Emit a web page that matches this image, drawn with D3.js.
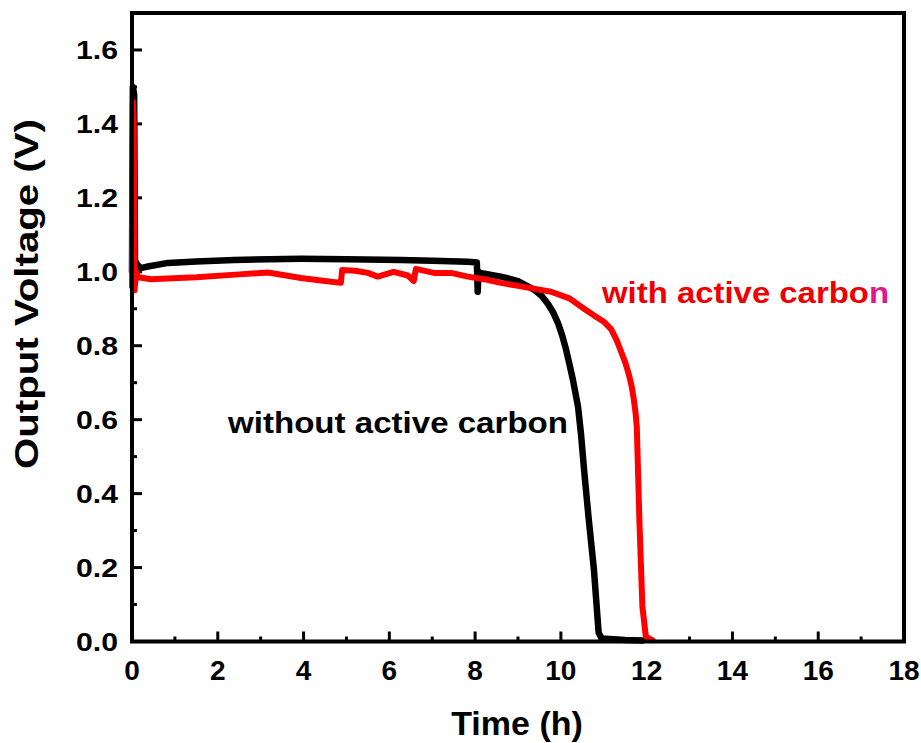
<!DOCTYPE html>
<html lang="en">
<head>
  <meta charset="UTF-8">
  <title>Output Voltage vs Time</title>
  <script src="https://d3js.org/d3.v7.min.js"></script>
  <style>
    body {
      margin: 0;
      background: #fff;
      font-family: Arial, "Liberation Sans", Helvetica, sans-serif;
    }
    svg { display: block; }
    .tick-label { font-weight: bold; fill: #000; }
    .axis-title { font-weight: bold; fill: #000; }
    .note { font-weight: bold; }
  </style>
</head>
<body>
  <svg></svg>
  <script>
    // without active carbon (black)
    const blackTime = [0.00, 0.02, 0.05, 0.07, 0.12, 0.20, 0.40, 0.84, 1.5, 2.38, 3.2, 3.94, 5.0, 6.27, 7.0, 7.83, 8.04,
      8.06, 8.08, 8.12, 8.6, 9.0, 9.37, 9.55, 9.7, 9.82, 9.93, 10.03, 10.12, 10.20, 10.28, 10.40, 10.47, 10.54, 10.65, 10.77, 10.88, 10.95, 11.5, 11.9];
    const blackVolt = [1.00, 1.50, 1.48, 1.03, 1.02, 1.010, 1.015, 1.024, 1.028, 1.032, 1.034, 1.035, 1.034, 1.032, 1.030, 1.027, 1.025,
      0.946, 1.000, 0.997, 0.987, 0.975, 0.952, 0.935, 0.913, 0.890, 0.862, 0.828, 0.790, 0.750, 0.708, 0.635, 0.560, 0.465, 0.330, 0.195, 0.024, 0.008, 0.004, 0.003];

    // with active carbon (red)
    const redTime = [0.00, 0.02, 0.04, 0.06, 0.10, 0.15, 0.44, 1.5, 2.5, 3.17, 3.94, 4.5, 4.87, 4.90, 5.2, 5.5, 5.73, 6.1, 6.43, 6.57,
      6.62, 7.04, 7.44, 7.83, 8.2, 8.6, 9.0, 9.77, 10.2, 10.54, 10.8, 11.0, 11.17, 11.3, 11.4, 11.5, 11.59, 11.65, 11.70, 11.74, 11.77,
      11.83, 11.90, 11.98, 12.14];
    const redVolt = [0.96, 1.46, 1.40, 0.95, 1.00, 0.985, 0.980, 0.985, 0.993, 0.998, 0.983, 0.975, 0.970, 1.005, 1.003, 0.997, 0.987, 1.000, 0.990, 0.975,
      1.008, 0.997, 0.997, 0.987, 0.980, 0.970, 0.962, 0.946, 0.928, 0.900, 0.880, 0.865, 0.845, 0.815, 0.785, 0.755, 0.720, 0.690, 0.655, 0.620, 0.580,
      0.330, 0.095, 0.013, 0.003];

    const xTicks = [0, 2, 4, 6, 8, 10, 12, 14, 16, 18];
    const yTicks = [0.0, 0.2, 0.4, 0.6, 0.8, 1.0, 1.2, 1.4, 1.6];

    const W = 921, H = 743;
    const svg = d3.select("svg").attr("width", W).attr("height", H);

    const x = d3.scaleLinear().domain([0, 18]).range([132, 904]);
    const y = d3.scaleLinear().domain([0, 1.7]).range([641.5, 13]);

    // ticks (inside, bottom + left only)
    const minorX = d3.range(1, 18, 2);
    const minorY = d3.range(0.1, 1.7, 0.2);

    const tickG = svg.append("g").attr("stroke", "#000").attr("stroke-width", 3);
    tickG.selectAll(".xmaj").data(xTicks.slice(1, -1)).enter().append("line")
      .attr("x1", d => x(d)).attr("x2", d => x(d))
      .attr("y1", y(0)).attr("y2", y(0) - 10);
    tickG.selectAll(".xmin").data(minorX).enter().append("line")
      .attr("x1", d => x(d)).attr("x2", d => x(d))
      .attr("y1", y(0)).attr("y2", y(0) - 5);
    tickG.selectAll(".ymaj").data(yTicks.slice(1)).enter().append("line")
      .attr("x1", x(0)).attr("x2", x(0) + 10)
      .attr("y1", d => y(d)).attr("y2", d => y(d));
    tickG.selectAll(".ymin").data(minorY).enter().append("line")
      .attr("x1", x(0)).attr("x2", x(0) + 5)
      .attr("y1", d => y(d)).attr("y2", d => y(d));

    // curves
    const line = d3.line().x(d => x(d[0])).y(d => y(d[1]));
    const blackData = blackTime.map((t, i) => [t, blackVolt[i]]);
    const redData = redTime.map((t, i) => [t, redVolt[i]]);

    svg.append("path").datum(blackData)
      .attr("d", line).attr("fill", "none")
      .attr("stroke", "#000").attr("stroke-width", 6.5)
      .attr("stroke-linejoin", "round").attr("stroke-linecap", "round");
    svg.append("path").datum(redData)
      .attr("d", line).attr("fill", "none")
      .attr("stroke", "#ff0000").attr("stroke-width", 6)
      .attr("stroke-linejoin", "round").attr("stroke-linecap", "round");

    // frame
    svg.append("rect")
      .attr("x", x(0)).attr("y", y(1.7))
      .attr("width", x(18) - x(0)).attr("height", y(0) - y(1.7))
      .attr("fill", "none").attr("stroke", "#000").attr("stroke-width", 4);

    // tick labels
    svg.selectAll(".xlab").data(xTicks).enter().append("text")
      .attr("class", "tick-label")
      .attr("x", d => x(d)).attr("y", 680)
      .attr("text-anchor", "middle")
      .style("font-size", "28px")
      .text(d => d);

    svg.selectAll(".ylab").data(yTicks).enter().append("text")
      .attr("class", "tick-label")
      .attr("x", 118).attr("y", d => y(d) + 9)
      .attr("text-anchor", "end")
      .attr("textLength", 42).attr("lengthAdjust", "spacingAndGlyphs")
      .style("font-size", "25px")
      .text(d => d.toFixed(1));

    // axis titles
    svg.append("text").attr("class", "axis-title")
      .attr("x", 517).attr("y", 735)
      .attr("text-anchor", "middle")
      .style("font-size", "34px")
      .text("Time (h)");

    svg.append("text").attr("class", "axis-title")
      .attr("transform", "translate(38,294) rotate(-90)")
      .attr("text-anchor", "middle")
      .attr("textLength", 350).attr("lengthAdjust", "spacingAndGlyphs")
      .style("font-size", "34px")
      .text("Output Voltage (V)");

    // annotations
    svg.append("text").attr("class", "note")
      .attr("x", 228).attr("y", 433)
      .attr("fill", "#000")
      .attr("textLength", 340).attr("lengthAdjust", "spacingAndGlyphs")
      .style("font-size", "30px")
      .text("without active carbon");

    const red = svg.append("text").attr("class", "note")
      .attr("x", 602).attr("y", 303)
      .attr("fill", "#ee0000")
      .attr("textLength", 287).attr("lengthAdjust", "spacingAndGlyphs")
      .style("font-size", "30px");
    red.append("tspan").text("with active carbo");
    red.append("tspan").attr("fill", "#e0188a").text("n");
  </script>
</body>
</html>
